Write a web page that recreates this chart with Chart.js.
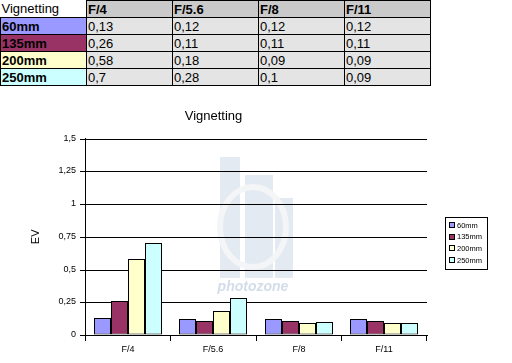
<!DOCTYPE html>
<html>
<head>
<meta charset="utf-8">
<script src="https://cdn.jsdelivr.net/npm/chart.js@4"></script>
<style>
  body { margin: 0; background: #fff; font-family: "Liberation Sans", Arial, sans-serif; }
  #tabella { position: absolute; left: 0; top: 0; border-collapse: collapse; table-layout: fixed; }
  #tabella td { border: 1px solid #000; width: 83px; height: 16px; padding: 0 1px; font-size: 13px; line-height: 15px; white-space: nowrap; overflow: hidden; background: #e4e4e4; }
  #tabella tr.testa td { background: #cacaca; font-weight: bold; }
  #tabella tr.testa td.vuota { border-top: none; border-left: none; background: #fff; font-weight: normal; }
  #tabella td.serie { font-weight: bold; }
  #grafico { position: absolute; left: 0; top: 90px; }
</style>
</head>
<body>
<table id="tabella"></table>
<canvas id="grafico" width="512" height="273"></canvas>
<script>
const aperture = ["F/4", "F/5.6", "F/8", "F/11"],
  serie = ["60mm", "135mm", "200mm", "250mm"],
  colori = ["#9999ff", "#993366", "#ffffcc", "#ccffff"],
  v60 = [0.13, 0.12, 0.12, 0.12],
  v135 = [0.26, 0.11, 0.11, 0.11],
  v200 = [0.58, 0.18, 0.09, 0.09],
  v250 = [0.7, 0.28, 0.1, 0.09],
  valori = [v60, v135, v200, v250],
  tickY = [0, 0.25, 0.5, 0.75, 1, 1.25, 1.5],
  virgola = (n) => String(n).replace(".", ","),
  font = "'Liberation Sans', Arial, sans-serif";

// tabella sopra il grafico
document.getElementById("tabella").innerHTML = `
  <tr class="testa"><td class="vuota">Vignetting</td>${aperture.map((a) => `<td>${a}</td>`).join("")}</tr>
  ${serie
    .map(
      (s, i) => `<tr><td class="serie" style="background:${colori[i]}">${s}</td>${valori[i]
        .map((v) => `<td>${virgola(v)}</td>`)
        .join("")}</tr>`
    )
    .join("")}`;

// filigrana photozone, disegnata sotto la griglia
const filigrana = {
  id: "filigrana",
  beforeDraw(chart) {
    const c = chart.ctx;
    c.save();
    c.fillStyle = "#e4eaf2";
    c.fillRect(220, 67, 20, 121);
    c.fillRect(245, 85, 28, 103);
    c.fillRect(275, 108, 18, 80);
    c.strokeStyle = "#f4f5f7";
    c.lineWidth = 6;
    c.beginPath();
    c.ellipse(253, 137, 33, 40, 0, 0, Math.PI * 2);
    c.stroke();
    c.fillStyle = "#d3dde9";
    c.font = "italic bold 14px " + font;
    c.textAlign = "center";
    c.textBaseline = "middle";
    c.fillText("photozone", 253, 197);
    c.restore();
  },
};

// legenda con riquadro, a destra del grafico
const legenda = {
  id: "legenda",
  afterDraw(chart) {
    const c = chart.ctx,
      x = 445,
      y = 127;
    c.save();
    c.fillStyle = "#fff";
    c.strokeStyle = "#000";
    c.lineWidth = 1;
    c.fillRect(x, y, 42, 52);
    c.strokeRect(x + 0.5, y + 0.5, 42, 52);
    c.font = "7.5px " + font;
    c.textBaseline = "middle";
    chart.data.datasets.forEach((ds, i) => {
      const cy = y + 8 + i * 11.7;
      c.fillStyle = ds.backgroundColor;
      c.fillRect(x + 4.5, Math.round(cy) - 2.5, 5, 5);
      c.strokeRect(x + 4.5, Math.round(cy) - 2.5, 5, 5);
      c.fillStyle = "#000";
      c.fillText(ds.label, x + 12, cy + 0.5);
    });
    c.restore();
  },
};

const config = {
  type: "bar",
  data: {
    labels: aperture,
    datasets: serie.map((s, i) => ({
      label: s,
      data: valori[i],
      backgroundColor: colori[i],
      borderColor: "#000",
      borderWidth: 1,
      borderSkipped: false,
      categoryPercentage: 0.8,
      barPercentage: 1,
    })),
  },
  options: {
    responsive: false,
    animation: false,
    layout: { padding: { left: 0, right: 85, top: 0, bottom: 0 } },
    plugins: {
      legend: { display: false },
      tooltip: { enabled: false },
      title: {
        display: true,
        text: "Vignetting",
        color: "#000",
        font: { family: font, size: 13, weight: "normal" },
        padding: { top: 19, bottom: 14 },
      },
    },
    scales: {
      x: {
        alignToPixels: true,
        grid: { display: true, offset: true, drawOnChartArea: false, color: "#000", tickLength: 6 },
        border: { color: "#000", width: 1 },
        ticks: { color: "#000", font: { family: font, size: 9 }, padding: 3, maxRotation: 0 },
        afterFit(scale) {
          scale.height = 28;
        },
      },
      y: {
        min: 0,
        max: 1.5,
        alignToPixels: true,
        afterBuildTicks(scale) {
          scale.ticks = tickY.map((v) => ({ value: v }));
        },
        grid: { color: "#000", tickLength: 5 },
        border: { color: "#000", width: 1 },
        ticks: { color: "#000", font: { family: font, size: 9 }, padding: 4, callback: (v) => virgola(v) },
        title: { display: true, text: "EV", color: "#000", font: { family: font, size: 11 }, padding: { top: 29, bottom: 0 } },
        afterFit(scale) {
          scale.width = 85;
        },
      },
    },
  },
  plugins: [filigrana, legenda],
};

new Chart(document.getElementById("grafico").getContext("2d"), config);
</script>
</body>
</html>
